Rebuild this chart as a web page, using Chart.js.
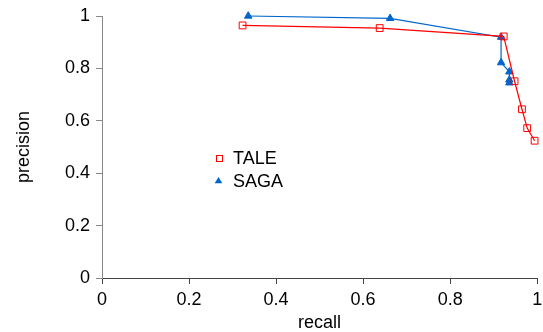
<!DOCTYPE html>
<html>
<head>
<meta charset="utf-8">
<script src="https://cdn.jsdelivr.net/npm/chart.js@4.4.1/dist/chart.umd.min.js"></script>
<style>
  html, body { margin: 0; padding: 0; background: #fff; }
  #wrap { width: 543px; height: 332px; }
</style>
</head>
<body>
<div id="wrap"><canvas id="pr" width="543" height="332"></canvas></div>
<script>
// Precision / recall curves for the two methods
const taleRecall    = [0.323, 0.638, 0.923, 0.948, 0.965, 0.977, 0.994];
const talePrecision = [0.964, 0.954, 0.922, 0.751, 0.644, 0.572, 0.524];

const sagaRecall    = [0.336, 0.662, 0.917, 0.917, 0.936, 0.936, 0.936];
const sagaPrecision = [1.000, 0.991, 0.919, 0.822, 0.787, 0.756, 0.745];

const axisTicks = [0, 0.2, 0.4, 0.6, 0.8, 1];
const seriesNames = ['TALE', 'SAGA'];

const FONT = { family: '"Liberation Sans", Arial, sans-serif', size: 18 };
const RED = '#ff0000';
const BLUE = '#0066cc';

const toPoints = (xs, ys) => xs.map((x, i) => ({ x, y: ys[i] }));

// Legend drawn inside the plot area
const innerLegend = {
  id: 'innerLegend',
  afterDraw(chart) {
    const ctx = chart.ctx;
    const mx = 218.5, tx = 233, rows = [158, 180.5];
    ctx.save();
    ctx.font = `${FONT.size}px ${FONT.family}`;
    ctx.textBaseline = 'middle';
    ctx.textAlign = 'left';
    chart.data.datasets.forEach((ds, i) => {
      const y = rows[i];
      ctx.lineWidth = 1;
      if (ds.pointStyle === 'rect') {
        ctx.fillStyle = '#fff';
        ctx.strokeStyle = ds.borderColor;
        ctx.strokeRect(Math.round(mx - 3) + 0.5, Math.round(y - 3) + 0.5, 6, 6);
      } else {
        ctx.fillStyle = ds.borderColor;
        ctx.beginPath();
        ctx.moveTo(mx, y - 3.5);
        ctx.lineTo(mx + 3.8, y + 2.8);
        ctx.lineTo(mx - 3.8, y + 2.8);
        ctx.closePath();
        ctx.fill();
      }
      ctx.fillStyle = '#000';
      ctx.fillText(ds.label, tx, y + 1.3);
    });
    ctx.restore();
  }
};

new Chart(document.getElementById('pr'), {
  type: 'scatter',
  data: {
    datasets: [
      {
        label: seriesNames[0],
        data: toPoints(taleRecall, talePrecision),
        showLine: true,
        clip: false,
        borderColor: RED,
        backgroundColor: 'rgba(255,255,255,0)',
        borderWidth: 1.2,
        pointStyle: 'rect',
        pointRadius: 4.8,
        pointBorderWidth: 1,
        pointBackgroundColor: 'rgba(255,255,255,0)',
        tension: 0
      },
      {
        label: seriesNames[1],
        data: toPoints(sagaRecall, sagaPrecision),
        showLine: true,
        clip: false,
        borderColor: BLUE,
        backgroundColor: BLUE,
        borderWidth: 1.2,
        pointStyle: 'triangle',
        pointRadius: 4.3,
        pointBorderWidth: 1,
        pointBackgroundColor: BLUE,
        tension: 0
      }
    ]
  },
  options: {
    responsive: false,
    animation: false,
    devicePixelRatio: 1,
    layout: { padding: { top: 16, right: 5, left: 0, bottom: 0 } },
    plugins: {
      legend: { display: false },
      tooltip: { enabled: false }
    },
    scales: {
      x: {
        type: 'linear',
        min: 0, max: 1,
        afterBuildTicks: s => { s.ticks = axisTicks.map(v => ({ value: v })); },
        afterFit: s => { s.height = 54; s.paddingLeft = 0; s.paddingRight = 0; },
        grid: { drawOnChartArea: false, drawTicks: true, tickLength: 6, tickColor: '#444' },
        border: { display: true, color: '#444', width: 1 },
        ticks: { color: '#000', font: FONT, padding: 5, maxRotation: 0, callback: v => String(v) },
        title: { display: true, text: 'recall', color: '#000', font: FONT, padding: { top: 0, bottom: -2 } }
      },
      y: {
        type: 'linear',
        min: 0, max: 1,
        afterBuildTicks: s => { s.ticks = axisTicks.map(v => ({ value: v })); },
        afterFit: s => { s.width = 102; s.paddingTop = 0; s.paddingBottom = 0; },
        grid: { drawOnChartArea: false, drawTicks: true, tickLength: 6, tickColor: '#888' },
        border: { display: true, color: '#888', width: 1 },
        ticks: { color: '#000', font: FONT, padding: 6, callback: v => String(v) },
        title: { display: true, text: 'precision', color: '#000', font: FONT, padding: { top: 13, bottom: 0 } }
      }
    }
  },
  plugins: [innerLegend]
});
</script>
</body>
</html>
